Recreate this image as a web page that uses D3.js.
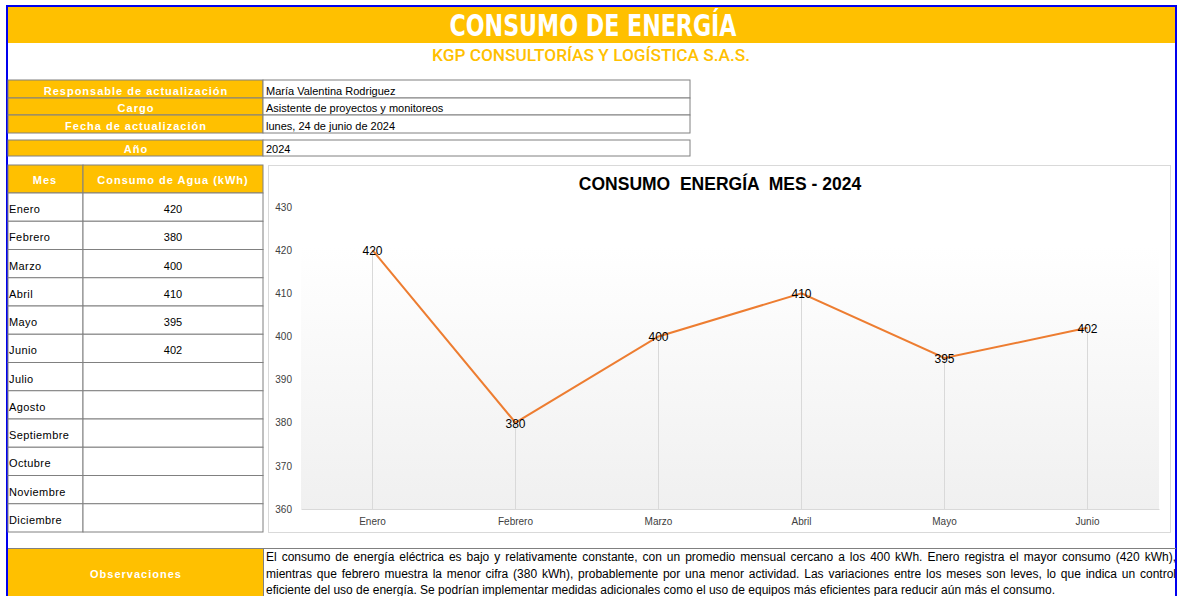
<!DOCTYPE html>
<html>
<head>
<meta charset="utf-8">
<script src="https://cdn.jsdelivr.net/npm/d3@7"></script>
<style>
  body { margin: 0; background: #fff; }
  text { font-family: "Liberation Sans", Arial, sans-serif; }
</style>
</head>
<body>
<svg id="sheet" width="1178" height="596"></svg>
<script>
// data
const months = ["Enero", "Febrero", "Marzo", "Abril", "Mayo", "Junio", "Julio", "Agosto", "Septiembre", "Octubre", "Noviembre", "Diciembre"];
const consumo = [420, 380, 400, 410, 395, 402];
const yTicks = [360, 370, 380, 390, 400, 410, 420, 430];
const infoLabels = ["Responsable de actualización", "Cargo", "Fecha de actualización"];
const infoValues = ["María Valentina Rodriguez", "Asistente de proyectos y monitoreos", "lunes, 24 de junio de 2024"];
const obsLines = [
  "El consumo de energía eléctrica es bajo y relativamente constante, con un promedio mensual cercano a los 400 kWh. Enero registra el mayor consumo (420 kWh),",
  "mientras que febrero muestra la menor cifra (380 kWh), probablemente por una menor actividad. Las variaciones entre los meses son leves, lo que indica un control",
  "eficiente del uso de energía. Se podrían implementar medidas adicionales como el uso de equipos más eficientes para reducir aún más el consumo."
];

const gold = "#FFC000", grid = "#808080";
const svg = d3.select("#sheet");

// blue frame
svg.append("rect").attr("x", 7).attr("y", 6).attr("width", 1169).attr("height", 600)
  .attr("fill", "none").attr("stroke", "#0000ee").attr("stroke-width", 2);

// header band
svg.append("rect").attr("x", 8).attr("y", 7).attr("width", 1167).attr("height", 36).attr("fill", gold);
svg.append("text").attr("x", 593).attr("y", 36).attr("text-anchor", "middle")
  .attr("textLength", 287).attr("lengthAdjust", "spacingAndGlyphs")
  .style("font-family", "'Liberation Sans Narrow', 'DejaVu Sans Condensed', sans-serif")
  .style("font-weight", "bold").style("font-size", "31px").attr("fill", "#fff")
  .text("CONSUMO DE ENERGÍA");
svg.append("text").attr("x", 591).attr("y", 61).attr("text-anchor", "middle")
  .attr("textLength", 318).attr("lengthAdjust", "spacingAndGlyphs")
  .style("font-family", "Roboto, sans-serif").style("font-weight", 500)
  .style("font-size", "17px").attr("fill", gold)
  .text("KGP CONSULTORÍAS Y LOGÍSTICA S.A.S.");

// helper for bordered cells
function cell(x, y, w, h, fill) {
  svg.append("rect").attr("x", x).attr("y", y).attr("width", w).attr("height", h)
    .attr("fill", fill).attr("stroke", grid).attr("stroke-width", 1);
}
function label(x, y, txt) {
  svg.append("text").attr("x", x).attr("y", y).attr("text-anchor", "middle")
    .attr("fill", "#fff").style("font-weight", "bold").style("font-size", "11px")
    .style("letter-spacing", "1px").text(txt);
}

// info block
const infoY = [80, 98, 115];
const infoH = [18, 17, 18];
infoLabels.forEach((l, i) => {
  cell(8, infoY[i], 255, infoH[i], gold);
  cell(263, infoY[i], 427, infoH[i], "#fff");
  label(136, infoY[i] + infoH[i] / 2 + 5.5, l);
  svg.append("text").attr("x", 266).attr("y", infoY[i] + infoH[i] / 2 + 5.5)
    .style("font-size", "11px").attr("fill", "#000").text(infoValues[i]);
});
cell(8, 140, 255, 16, gold);
cell(263, 140, 427, 16, "#fff");
label(136, 153, "Año");
svg.append("text").attr("x", 266).attr("y", 153).style("font-size", "11px").text("2024");

// month table
cell(8, 165, 75, 28, gold);
cell(83, 165, 180, 28, gold);
label(45, 184, "Mes");
label(173, 184, "Consumo de Agua (kWh)");
const rowH = (532 - 193) / 12;
months.forEach((m, i) => {
  const y0 = 193 + i * rowH;
  cell(8, y0, 75, rowH, "#fff");
  cell(83, y0, 180, rowH, "#fff");
  svg.append("text").attr("x", 9).attr("y", y0 + rowH / 2 + 6)
    .style("font-size", "11px").style("letter-spacing", "0.4px").text(m);
  if (i < consumo.length) {
    svg.append("text").attr("x", 173).attr("y", y0 + rowH / 2 + 6)
      .attr("text-anchor", "middle").style("font-size", "11px").text(consumo[i]);
  }
});

// chart box
svg.append("rect").attr("x", 268.5).attr("y", 165.5).attr("width", 902).attr("height", 367)
  .attr("fill", "#fff").attr("stroke", "#d9d9d9");

const plot = { left: 301, right: 1159, top: 207, bottom: 509 };
const defs = svg.append("defs");
const grad = defs.append("linearGradient").attr("id", "bg").attr("x1", 0).attr("y1", 0).attr("x2", 0).attr("y2", 1);
grad.append("stop").attr("offset", "0").attr("stop-color", "#ffffff");
grad.append("stop").attr("offset", "1").attr("stop-color", "#f0f0f0");
svg.append("rect").attr("x", plot.left).attr("y", 247).attr("width", plot.right - plot.left)
  .attr("height", plot.bottom - 247).attr("fill", "url(#bg)");

const x = d3.scaleBand().domain(months.slice(0, consumo.length)).range([plot.left, plot.right]).padding(0);
const y = d3.scaleLinear().domain([360, 430]).range([plot.bottom, plot.top]);

svg.append("text").attr("x", 720).attr("y", 190).attr("text-anchor", "middle")
  .style("font-weight", "bold").style("font-size", "17.5px").style("white-space", "pre")
  .text("CONSUMO  ENERGÍA  MES - 2024");

// y axis labels
const yAxis = svg.append("g").attr("transform", `translate(${plot.left},0)`)
  .call(d3.axisLeft(y).tickValues(yTicks).tickSize(0).tickPadding(9));
yAxis.select(".domain").remove();
yAxis.selectAll("text").style("font-size", "10px").style("font-family", "'Liberation Sans', Arial, sans-serif").attr("fill", "#404040");

// x axis
const xAxis = svg.append("g").attr("transform", `translate(0,${plot.bottom})`)
  .call(d3.axisBottom(x).tickSize(0).tickPadding(9).tickSizeOuter(0));
xAxis.select(".domain").attr("stroke", "#d9d9d9");
xAxis.selectAll("text").style("font-size", "10px").style("font-family", "'Liberation Sans', Arial, sans-serif").attr("fill", "#404040");

const cx = (d, i) => x(months[i]) + x.bandwidth() / 2;

// drop lines
svg.append("g").selectAll("line").data(consumo).join("line")
  .attr("x1", cx).attr("x2", cx).attr("y1", d => y(d)).attr("y2", plot.bottom)
  .attr("stroke", "#d9d9d9").attr("stroke-width", 1);

// series line
svg.append("path").datum(consumo)
  .attr("fill", "none").attr("stroke", "#ED7D31").attr("stroke-width", 2)
  .attr("d", d3.line().x(cx).y(d => y(d)));

// data labels
svg.append("g").selectAll("text").data(consumo).join("text")
  .attr("x", cx).attr("y", d => y(d) + 5).attr("text-anchor", "middle")
  .style("font-size", "12px").attr("fill", "#000").text(d => d);

// observaciones
svg.append("line").attr("x1", 8).attr("x2", 1176).attr("y1", 548.5).attr("y2", 548.5).attr("stroke", grid);
svg.append("rect").attr("x", 8).attr("y", 549).attr("width", 255).attr("height", 50).attr("fill", gold);
svg.append("line").attr("x1", 263.5).attr("x2", 263.5).attr("y1", 548).attr("y2", 596).attr("stroke", grid);
label(136, 578, "Observaciones");

obsLines.forEach((line, i) => {
  const t = svg.append("text").attr("x", 266).attr("y", 561 + i * 16.5)
    .style("font-size", "12px").attr("fill", "#000").style("white-space", "pre").text(line);
  if (i < obsLines.length - 1) {
    const natural = t.node().getComputedTextLength();
    const spaces = line.split(" ").length - 1;
    t.style("word-spacing", ((1176 - 266 - natural) / spaces) + "px");
  }
});
</script>
</body>
</html>
